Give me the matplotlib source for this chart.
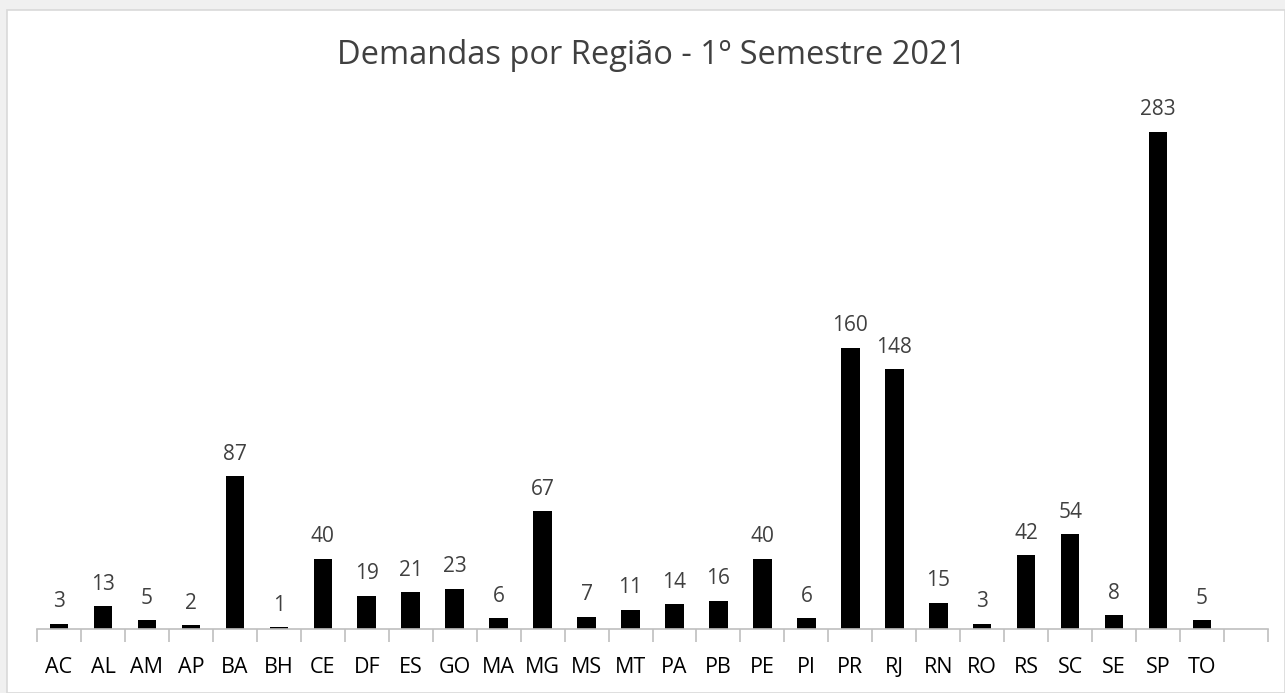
import numpy as np
import matplotlib.pyplot as plt
from matplotlib.patches import Rectangle

# chart data
regioes = ['AC', 'AL', 'AM', 'AP', 'BA', 'BH', 'CE', 'DF', 'ES', 'GO', 'MA', 'MG', 'MS', 'MT',
           'PA', 'PB', 'PE', 'PI', 'PR', 'RJ', 'RN', 'RO', 'RS', 'SC', 'SE', 'SP', 'TO']
demandas = [3, 13, 5, 2, 87, 1, 40, 19, 21, 23, 6, 67, 7, 11,
            14, 16, 40, 6, 160, 148, 15, 3, 42, 54, 8, 283, 5]
titulo = 'Demandas por Região - 1º Semestre 2021'

plt.rcParams['font.family'] = ['Open Sans', 'DejaVu Sans']

fig = plt.figure(figsize=(12.85, 6.93), dpi=100)

# light grey frame like the spreadsheet background
fig.patches.append(Rectangle((0, 0), 1, 1, transform=fig.transFigure,
                             facecolor='#f0f0f0', edgecolor='none', zorder=-3))
fig.patches.append(Rectangle((7 / 1285, 0), 1 - 7 / 1285, 1 - 10 / 693,
                             transform=fig.transFigure, facecolor='white',
                             edgecolor='#d9d9d9', linewidth=1.2, zorder=-2))

ax = fig.add_axes([37 / 1285, 64 / 693, 1231 / 1285, 527 / 693])
ax.patch.set_alpha(0)

x = np.arange(len(regioes))
ax.bar(x, demandas, width=0.42, color='black')

for xi, v in zip(x, demandas):
    ax.annotate(str(v), (xi, v), xytext=(0, 15.8), textcoords='offset points',
                ha='center', va='center', fontsize=15, color='#404040')

# one empty slot after the last category, like the original
ax.set_xlim(-0.5, len(regioes) + 0.5)
ax.set_ylim(0, 300)

for s in ['top', 'right', 'left']:
    ax.spines[s].set_visible(False)
ax.spines['bottom'].set_color('#bfbfbf')
ax.spines['bottom'].set_linewidth(1.2)

ax.set_yticks([])
ax.set_xticks(x)
ax.set_xticklabels(regioes, fontsize=15.5, color='black')
ax.tick_params(axis='x', which='major', length=0, pad=20)
ax.set_xticks(np.arange(len(regioes) + 2) - 0.5, minor=True)
ax.tick_params(axis='x', which='minor', length=9, color='#bfbfbf', width=1.2)

fig.text(0.507, 1 - 56 / 693, titulo, ha='center', va='center',
         fontsize=23.5, color='#404040')

fig.savefig('out.png', dpi=100)
